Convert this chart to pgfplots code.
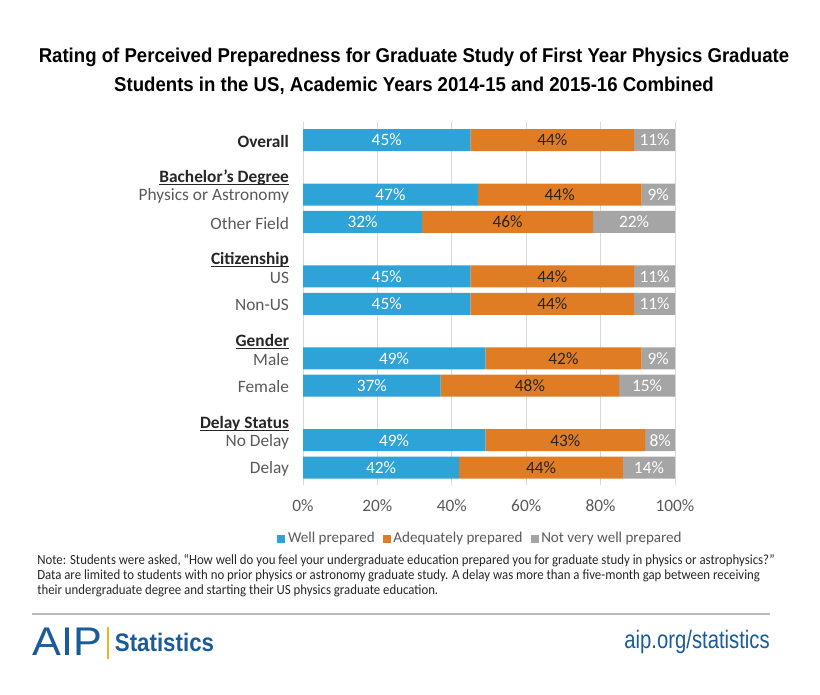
\documentclass[border=0pt]{standalone}
\usepackage{fontspec}
\setmainfont{Carlito}
\newfontfamily\titlefont[FakeStretch=0.93]{Liberation Sans}
\newfontfamily\condfont[FakeStretch=0.8]{Liberation Sans}
\newfontfamily\statfont[FakeStretch=0.88]{Liberation Sans}
\newfontfamily\logofont[FakeStretch=1.08]{Liberation Sans}
\newfontfamily\notefont[FakeStretch=0.915]{Carlito}
\usepackage{pgfplots}
\usepackage{pgfplotstable}
\pgfplotsset{compat=1.18}

\definecolor{blueC}{RGB}{46,163,216}
\definecolor{orangeC}{RGB}{224,125,36}
\definecolor{grayC}{RGB}{165,165,165}
\definecolor{gridC}{RGB}{217,217,217}
\definecolor{labelC}{RGB}{89,89,89}
\definecolor{darkC}{RGB}{38,38,38}
\definecolor{aipblue}{RGB}{26,92,153}
\definecolor{goldC}{RGB}{240,180,40}

\newcommand\hdr[1]{\underline{\smash{\textbf{#1}}}}

\pgfplotstableread{
y w a n
0 45 44 11
2 47 44 9
3 32 46 22
5 45 44 11
6 45 44 11
8 49 42 9
9 37 48 15
11 49 43 8
12 42 44 14
}\datatable

\pgfplotsset{common/.style={scale only axis, width=279pt, height=272.25pt,
  xmin=0, xmax=100, ymin=-0.65, ymax=12.65, y dir=reverse,
  at={(227.25pt,157.3pt)}, anchor=south west}}

\begin{document}
\begin{tikzpicture}
\path[use as bounding box] (0,0) rectangle (615pt,521.25pt);
\begin{axis}[common, xbar stacked, bar width=16.5pt,
  axis line style={draw=none}, major tick length=0pt,
  xtick={0,20,40,60,80,100}, xticklabels={0\%,20\%,40\%,60\%,80\%,100\%},
  xmajorgrids, grid style={gridC, line width=0.75pt},
  ytick={0,2,3,5,6,8,9,11,12},
  yticklabels={\textbf{\color{darkC}Overall}, Physics or Astronomy, Other Field, US, Non-US, Male, Female, No Delay, Delay},
  extra y ticks={1.55,4.55,7.55,10.58},
  extra y tick labels={\hdr{Bachelor's Degree},\hdr{Citizenship},\hdr{Gender},\hdr{Delay Status}},
  extra y tick style={yticklabel style={text=darkC}},
  yticklabel style={font=\fontsize{13}{15}\selectfont, text=labelC, xshift=-7pt, yshift=-1pt},
  xticklabel style={font=\fontsize{13}{15}\selectfont, text=labelC, yshift=-7pt},
  legend style={at={(0.478,-0.147)}, anchor=center, legend columns=3, draw=none, fill=none,
    font=\fontsize{11.3}{13}\selectfont, text=labelC,
    /tikz/every even column/.append style={column sep=4pt}},
  legend image code/.code={\fill[#1] (0pt,-3pt) rectangle (6pt,3pt);},
]
\addplot[fill=blueC, draw=none] table[x=w, y=y]{\datatable};
\addplot[fill=orangeC, draw=none] table[x=a, y=y]{\datatable};
\addplot[fill=grayC, draw=none] table[x=n, y=y]{\datatable};
\legend{Well prepared, Adequately prepared, Not very well prepared}
\end{axis}
\begin{axis}[common, axis lines=none, xtick=\empty, ytick=\empty,
  /pgf/number format/assume math mode=true,
  nodes near coords={\pgfmathprintnumber{\pgfplotspointmeta}\%},
  every node near coord/.style={anchor=center, font=\fontsize{13}{15}\selectfont}]
\addplot[draw=none, mark=none, nodes near coords style={text=white}, point meta=\thisrow{w}]
  table[x expr=\thisrow{w}/2, y=y]{\datatable};
\addplot[draw=none, mark=none, nodes near coords style={text=darkC}, point meta=\thisrow{a}]
  table[x expr=\thisrow{w}+\thisrow{a}/2, y=y]{\datatable};
\addplot[draw=none, mark=none, nodes near coords style={text=white}, point meta=\thisrow{n}]
  table[x expr=\thisrow{w}+\thisrow{a}+\thisrow{n}/2, y=y]{\datatable};
\end{axis}
\node[align=center, font=\titlefont\bfseries\fontsize{15}{21.75}\selectfont, text=black] at (310.5pt,467.6pt)
 {Rating of Perceived Preparedness for Graduate Study of First Year Physics Graduate\\Students in the US, Academic Years 2014-15 and 2015-16 Combined};
\node[anchor=north west, align=left, inner sep=0pt, font=\notefont\fontsize{10.5}{11}\selectfont, text=darkC] at (27.75pt,105.5pt)
 {Note: Students were asked, “How well do you feel your undergraduate education prepared you for graduate study in physics or astrophysics?”\\
 Data are limited to students with no prior physics or astronomy graduate study. A delay was more than a five-month gap between receiving\\
 their undergraduate degree and starting their US physics graduate education.};
\draw[gray!55, line width=1.5pt] (24pt,60.75pt) -- (577.5pt,60.75pt);
\node[anchor=west, inner sep=0pt, font=\logofont\fontsize{30}{30}\selectfont, text=aipblue] at (24pt,39.75pt) {AIP};
\draw[goldC, line width=1.2pt] (81pt,27pt) -- (81pt,51pt);
\node[anchor=west, inner sep=0pt, font=\statfont\bfseries\fontsize{19}{19}\selectfont, text=aipblue] at (86pt,39.75pt) {Statistics};
\node[anchor=east, inner sep=0pt, font=\condfont\fontsize{19}{19}\selectfont, text=aipblue] at (577.5pt,39.75pt) {aip.org/statistics};
\end{tikzpicture}
\end{document}
